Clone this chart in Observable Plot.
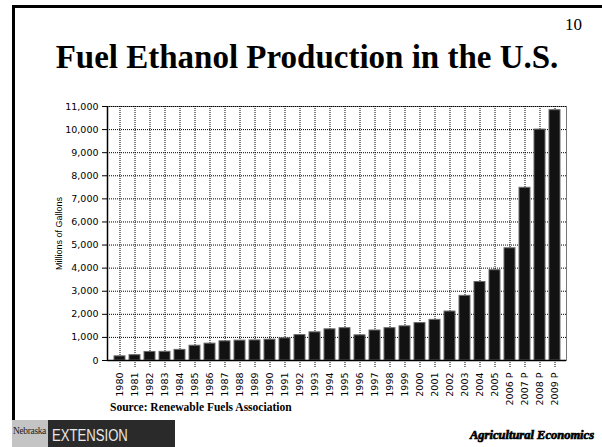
<!DOCTYPE html>
<html>
<head>
<meta charset="utf-8">
<script src="https://cdn.jsdelivr.net/npm/d3@7"></script>
<script src="https://cdn.jsdelivr.net/npm/@observablehq/plot@0.6"></script>
<style>
  html, body { margin: 0; padding: 0; background: #fff; }
  #slide { position: relative; width: 602px; height: 447px; overflow: hidden; background: #fff; }
  #slide svg { position: absolute; left: 0; top: 0; }
  .frame { position: absolute; left: 12px; top: 5px; width: 600px; height: 460px; border: 3px solid #000; box-sizing: border-box; }
  .pagenum { position: absolute; right: 20px; top: 15px; font: 17px "Liberation Serif", serif; color: #000; }
  .title { position: absolute; left: 12px; width: 590px; top: 39px; text-align: center; font: bold 33px "Liberation Serif", serif; color: #000; }
  .source { position: absolute; left: 110px; top: 401px; font: bold 11.5px "Liberation Serif", serif; color: #000; }
  .nebr { position: absolute; left: 12px; top: 420px; width: 36px; height: 27px; background: #c4c4c4; color: #1a1a1a; box-sizing: border-box; overflow: hidden; }
  .nebr span { position: absolute; left: 1px; top: 4px; font: 11px "Liberation Serif", serif; letter-spacing: -0.4px; transform: scaleX(0.86); transform-origin: left top; white-space: nowrap; }
  .ext { position: absolute; left: 48px; top: 420px; width: 127px; height: 27px; background: #2a2a2a; color: #e8e8e8; box-sizing: border-box; }
  .ext span { position: absolute; left: 4px; top: 7px; font: 16px "Liberation Sans", sans-serif; transform: scaleX(0.82); transform-origin: left top; white-space: nowrap; }
  .agec { position: absolute; right: 8px; top: 428px; font: italic bold 12.5px "Liberation Serif", serif; color: #000; -webkit-text-stroke: 0.7px #000; }
</style>
</head>
<body>
<div id="slide">
  <div class="frame"></div>
  <div class="pagenum">10</div>
  <div class="title">Fuel Ethanol Production in the U.S.</div>
  <div class="source">Source: Renewable Fuels Association</div>
  <div class="nebr"><span>Nebraska</span></div>
  <div class="ext"><span>EXTENSION</span></div>
  <div class="agec">Agricultural Economics</div>
</div>
<script>
// Annual U.S. fuel ethanol production, millions of gallons ("P" = projected)
const years = ["1980","1981","1982","1983","1984","1985","1986","1987","1988","1989",
  "1990","1991","1992","1993","1994","1995","1996","1997","1998","1999",
  "2000","2001","2002","2003","2004","2005","2006 P","2007 P","2008 P","2009 P"];
const gallons = [180, 230, 370, 375, 460, 640, 730, 830, 860, 870,
  900, 960, 1100, 1220, 1350, 1400, 1090, 1300, 1400, 1480,
  1620, 1760, 2120, 2800, 3400, 3910, 4860, 7480, 10000, 10840];
const yTicks = d3.range(0, 11001, 1000);
const yLabel = "Millions of Gallons";

const rows = years.map((year, i) => ({year, gallons: gallons[i]}));

const chart = Plot.plot({
  width: 602,
  height: 447,
  marginLeft: 107,
  marginRight: 36,
  marginTop: 106,
  marginBottom: 87,
  style: {background: "transparent", fontFamily: "'DejaVu Sans', Verdana, sans-serif", fontSize: "9.5px", color: "#000"},
  x: {type: "band", domain: years, paddingInner: 0.27, paddingOuter: 0.13, axis: null},
  y: {domain: [0, 11000], axis: null},
  marks: [
    Plot.frame({stroke: "#777", strokeWidth: 1}),
    Plot.gridY(yTicks, {stroke: "#000", strokeOpacity: 1, strokeDasharray: "1,1"}),
    Plot.gridX(years, {stroke: "#000", strokeOpacity: 1, strokeDasharray: "1,1"}),
    // short dotted ticks below the baseline
    Plot.ruleX(years, {x: d => d, y1: 0, y2: -320, stroke: "#000", strokeDasharray: "1,1"}),
    Plot.barY(rows, {x: "year", y: "gallons", fill: "#121212", stroke: "#6a6a6a", strokeWidth: 1}),
    Plot.ruleY([0], {stroke: "#000", strokeWidth: 1.5}),
    Plot.axisY(yTicks, {
      tickSize: 5, tickPadding: 4, tickFormat: d3.format(","),
      fontSize: 9.5, stroke: "#000",
      label: yLabel, labelAnchor: "center", labelArrow: "none", labelOffset: 52
    }),
    Plot.text(years, {
      x: d => d, frameAnchor: "bottom", dy: 12, rotate: -90,
      textAnchor: "end", lineAnchor: "middle", fontSize: 9.5, fill: "#000", text: d => d
    })
  ]
});

// left axis line
const svg = d3.select(chart);
svg.append("line")
  .attr("x1", 107.5).attr("x2", 107.5)
  .attr("y1", 106).attr("y2", 360)
  .attr("stroke", "#000").attr("stroke-width", 1.5);
svg.selectAll("[aria-label='y-axis label'] text")
  .attr("font-size", 9)
  .attr("font-family", "'Liberation Sans', Arial, sans-serif");

document.getElementById("slide").prepend(chart);
</script>
</body>
</html>
